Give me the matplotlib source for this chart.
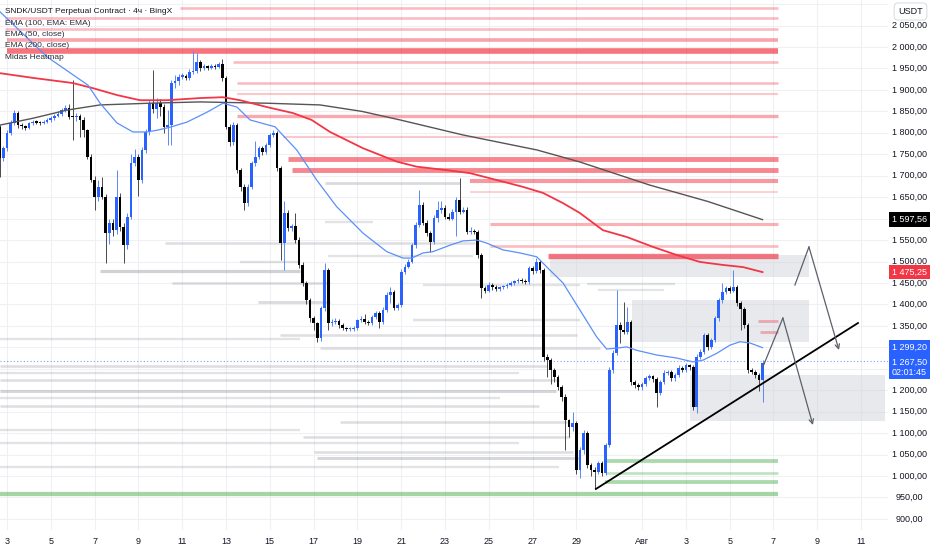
import matplotlib
matplotlib.use("Agg")
import numpy as np
import matplotlib.pyplot as plt
from matplotlib.patches import Rectangle
from matplotlib import transforms

plt.rcParams['font.family'] = ['Liberation Sans Narrow', 'Liberation Sans', 'DejaVu Sans']

# x axis is "days since Jul 1 00:00", 4h candles
FIRST_OPEN = 1814
LAST_CANDLE_DAY = 36.5

closes = [
    1741, 1764, 1800, 1823, 1847, 1818, 1815, 1812, 1822, 1826,
    1824, 1823, 1826, 1830, 1835, 1840, 1845, 1853, 1857, 1838,
    1836, 1840, 1830, 1806, 1744, 1690, 1651, 1674, 1651, 1566,
    1590, 1574, 1651, 1581, 1538, 1604, 1729, 1744, 1690, 1760,
    1802, 1869, 1855, 1870, 1860, 1814, 1818, 1916, 1920, 1931,
    1933, 1928, 1942, 1945, 1966, 1950, 1955, 1952, 1956, 1954,
    1960, 1928, 1814, 1779, 1818, 1713, 1674, 1636, 1674, 1729,
    1744, 1764, 1755, 1771, 1795, 1800, 1718, 1543, 1613, 1578,
    1582, 1550, 1492, 1450, 1410, 1368, 1356, 1321, 1391, 1480,
    1356, 1359, 1362, 1352, 1345, 1343, 1343, 1345, 1363, 1366,
    1360, 1357, 1371, 1379, 1359, 1387, 1422, 1429, 1391, 1398,
    1476, 1488, 1500, 1538, 1585, 1632, 1590, 1566, 1546, 1601,
    1620, 1625, 1604, 1600, 1615, 1643, 1616, 1620, 1569, 1572,
    1569, 1515, 1438, 1432, 1445, 1440, 1437, 1440, 1442, 1446,
    1450, 1454, 1457, 1455, 1452, 1485, 1478, 1499, 1480, 1278,
    1270, 1247, 1231, 1208, 1185, 1130, 1115, 1123, 1014, 1060,
    1100, 1025, 1014, 1010, 1030, 1007, 1072, 1247, 1287, 1352,
    1340, 1335, 1359, 1219, 1212, 1207, 1215, 1228, 1232, 1225,
    1193, 1219, 1240, 1243, 1228, 1235, 1252, 1248, 1258, 1254,
    1161, 1278, 1289, 1328, 1300, 1317, 1368, 1410, 1429, 1438,
    1432, 1441, 1403, 1390, 1352, 1247, 1243, 1235, 1224, 1263,
]
highs = [
    1818, 1770, 1806, 1830, 1853, 1852, 1822, 1819, 1826, 1830,
    1829, 1828, 1830, 1834, 1839, 1845, 1850, 1858, 1864, 1868,
    1923, 1846, 1845, 1836, 1810, 1750, 1700, 1690, 1696, 1658,
    1600, 1598, 1713, 1660, 1590, 1612, 1750, 1762, 1750, 1766,
    1810, 1876, 1946, 1880, 1878, 1866, 1853, 1922, 1935, 1938,
    1940, 1937, 1948, 1990, 1986, 1970, 1960, 1958, 1961, 1960,
    1964, 1972, 1932, 1820, 1825, 1822, 1718, 1680, 1680, 1735,
    1780, 1770, 1770, 1776, 1800, 1806, 1804, 1722, 1640, 1620,
    1588, 1612, 1556, 1498, 1455, 1415, 1372, 1360, 1396, 1496,
    1484, 1366, 1368, 1366, 1356, 1348, 1347, 1350, 1367, 1372,
    1378, 1364, 1376, 1384, 1384, 1395, 1428, 1440, 1434, 1404,
    1482, 1494, 1506, 1544, 1592, 1667, 1638, 1596, 1572, 1608,
    1640, 1642, 1632, 1612, 1622, 1650, 1694, 1626, 1626, 1580,
    1576, 1574, 1520, 1444, 1452, 1450, 1446, 1444, 1446, 1450,
    1454, 1458, 1462, 1461, 1459, 1490, 1490, 1508, 1504, 1484,
    1284, 1276, 1252, 1236, 1212, 1190, 1134, 1150, 1128, 1068,
    1108, 1106, 1030, 1020, 1036, 1034, 1078, 1255, 1294, 1433,
    1358, 1405, 1395, 1364, 1224, 1216, 1220, 1234, 1238, 1236,
    1230, 1224, 1246, 1248, 1248, 1240, 1258, 1256, 1264, 1262,
    1258, 1284, 1296, 1334, 1334, 1322, 1374, 1416, 1450, 1444,
    1444, 1480, 1446, 1408, 1394, 1356, 1252, 1248, 1240, 1270,
]
lows = [
    1697, 1735, 1758, 1795, 1818, 1812, 1808, 1806, 1808, 1818,
    1820, 1818, 1820, 1822, 1826, 1831, 1836, 1840, 1848, 1832,
    1783, 1828, 1790, 1790, 1738, 1685, 1620, 1640, 1645, 1496,
    1540, 1560, 1565, 1570, 1496, 1530, 1600, 1722, 1653, 1684,
    1752, 1795, 1846, 1835, 1840, 1800, 1772, 1772, 1905, 1912,
    1925, 1922, 1922, 1936, 1940, 1944, 1946, 1946, 1948, 1949,
    1950, 1920, 1808, 1770, 1772, 1706, 1665, 1620, 1630, 1668,
    1722, 1738, 1748, 1750, 1766, 1790, 1710, 1503, 1480, 1570,
    1572, 1544, 1486, 1444, 1402, 1360, 1340, 1313, 1315, 1385,
    1340, 1350, 1354, 1346, 1340, 1338, 1338, 1339, 1341, 1358,
    1355, 1352, 1352, 1366, 1344, 1354, 1382, 1404, 1386, 1386,
    1394, 1470, 1484, 1496, 1532, 1580, 1584, 1560, 1522, 1540,
    1592, 1612, 1598, 1596, 1596, 1560, 1610, 1612, 1563, 1565,
    1563, 1508, 1415, 1426, 1428, 1434, 1432, 1432, 1436, 1438,
    1442, 1446, 1450, 1450, 1447, 1448, 1472, 1474, 1474, 1268,
    1230, 1215, 1220, 1200, 1175, 1060, 1090, 1105, 1005, 995,
    1052, 1018, 1000, 970, 1004, 1000, 1002, 1068, 1240, 1282,
    1310, 1330, 1330, 1212, 1205, 1200, 1200, 1210, 1224, 1218,
    1160, 1188, 1214, 1236, 1222, 1222, 1230, 1242, 1242, 1248,
    1154, 1146, 1272, 1284, 1294, 1295, 1312, 1362, 1404, 1424,
    1426, 1428, 1396, 1340, 1346, 1240, 1238, 1228, 1198, 1173,
]

# moving averages: (day, price)
ema_fast_days = [1.68, 3.83, 5.70, 6.25, 7.02, 7.75, 8.39, 8.85, 9.44, 10.22, 11.13, 11.86, 12.50,
                 13.10, 14.24, 15.23, 16.14, 17.05, 18.26, 19.34, 20.08, 20.48, 21.00, 21.45, 22.23,
                 22.82, 23.45, 23.90, 24.65, 25.42, 26.19, 26.79, 27.39, 28.16, 28.93, 29.38, 29.84,
                 30.30, 30.75, 31.67, 32.58, 33.32, 33.78, 34.41, 35.01, 35.47, 35.93, 36.50]
ema_fast_vals = [2082, 1977, 1911, 1869, 1823, 1802, 1802, 1806, 1813, 1825, 1848, 1869, 1860,
                 1830, 1814, 1760, 1690, 1628, 1566, 1523, 1508, 1508, 1520, 1523, 1538,
                 1548, 1550, 1543, 1527, 1520, 1511, 1480, 1450, 1387, 1324, 1296, 1298,
                 1301, 1293, 1282, 1275, 1266, 1270, 1286, 1305, 1313, 1310, 1299.2]
ema_red_days = [1.68, 3.19, 5.01, 5.93, 7.02, 8.07, 9.31, 10.81, 11.86, 12.64, 13.87, 15.06, 15.91,
                16.75, 18.26, 19.79, 20.71, 22.08, 23.14, 24.36, 25.56, 26.47, 27.39, 28.16, 29.21,
                30.31, 31.50, 32.59, 33.64, 34.69, 35.61, 36.50]
ema_red_vals = [1939, 1928, 1916, 1904, 1888, 1876, 1876, 1881, 1883, 1876, 1860, 1846, 1830,
                1802, 1764, 1733, 1721, 1713, 1706, 1690, 1674, 1660, 1636, 1613, 1573,
                1557, 1534, 1515, 1499, 1492, 1487, 1475.25]
ema_slow_days = [1.68, 3.19, 4.74, 6.25, 8.53, 10.81, 13.87, 16.29, 18.2, 19.95, 22.82, 26.20,
                 28.16, 31.36, 34.0, 36.50]
ema_slow_vals = [1818, 1834, 1853, 1865, 1869, 1872, 1869, 1865, 1850, 1830, 1795, 1760,
                 1732, 1678, 1640, 1597.56]

# Midas heatmap rows: price, start day, strength (all end at the same day)
HEAT_END = 37.21
heat_red_price = [2090, 2067, 2041, 2016, 1991, 1966, 1915, 1890, 1839, 1790, 1739, 1713,
                  1688, 1662, 1587, 1537, 1513, 1361, 1336]
heat_red_start = [9.9, 1.9, 1.9, 2.0, 2.0, 12.32, 12.5, 12.5, 12.5, 14.6, 14.83, 15.01,
                  23.14, 23.14, 24.05, 24.05, 26.7, 36.29, 36.38]
heat_red_str = [0.3, 0.3, 0.3, 0.5, 0.9, 0.3, 0.3, 0.2, 0.45, 0.2, 0.75, 0.75,
                0.6, 0.15, 0.4, 0.3, 0.85, 0.35, 0.35]

heat_gray_price = [1683, 1592, 1543, 1513, 1499, 1479, 1450, 1448, 1445, 1434, 1406, 1364, 1329,
                   1319, 1298, 1256, 1240, 1224, 1197, 1182, 1162, 1127, 1107, 1092, 1077,
                   1057, 1041, 1021]
heat_gray_start = [16.52, 16.52, 9.21, 16.66, 12.64, 6.25, 9.53, 28.5, 21.0, 29.0, 13.46, 20.54,
                   14.47, 1.68, 16.29, 1.68, 1.68, 1.68, 1.68, 1.68, 1.68, 17.21, 1.68, 15.5,
                   1.68, 16.0, 16.16, 1.68]
heat_gray_end = [22.68, 18.71, 23.37, 23.28, 15.38, 15.38, 16.75, 32.5, 28.16, 32.0, 16.75, 28.16,
                 28.03, 15.38, 29.08, 26.66, 25.4, 27.2, 27.07, 24.5, 26.3, 27.57, 15.38, 27.7,
                 25.4, 27.85, 28.16, 27.2]
heat_gray_str = [0.5, 0.3, 0.4, 0.3, 0.3, 0.7, 0.4, 0.3, 0.3, 0.25, 0.5, 0.35, 0.4,
                 0.3, 0.4, 0.4, 0.3, 0.4, 0.6, 0.3, 0.4, 0.4, 0.3, 0.4, 0.3,
                 0.4, 0.6, 0.3]

heat_green_price = [957, 1034, 1008, 985]
heat_green_start = [1.68, 29.31, 29.31, 29.31]
heat_green_str = [0.7, 0.6, 0.35, 0.6]

# drawn zones: day0, day1, price low, price high
zone_day0 = [26.79, 30.54, 33.19]
zone_day1 = [38.62, 38.62, 42.1]
zone_lo = [1465, 1312, 1128]
zone_hi = [1516, 1410, 1235]

trend_days = [28.89, 40.86]
trend_vals = [969.7, 1356.6]
arrow1_days = [36.52, 37.43, 38.80]
arrow1_vals = [1254.8, 1368.3, 1118.9]
arrow2_days = [37.98, 38.62, 39.99]
arrow2_vals = [1445.2, 1534.0, 1293.7]

last_price = 1267.50
ema_fast_last = 1299.20
ema_red_last = 1475.25
ema_slow_last = 1597.56

jul_labels = [3, 5, 7, 9, 11, 13, 15, 17, 19, 21, 23, 25, 27, 29]
aug_labels = [3, 5, 7, 9, 11]

BLUE = '#2962ff'
RED = '#f23645'
TXT = '#131722'


def fmt(v):
    return f"{v:,.2f}".replace(",", " ").replace(".", ",")


fig = plt.figure(figsize=(9.32, 5.5), dpi=100)
W, H = 932, 550
ax = fig.add_axes([0, 20 / H, 888 / W, 530 / H])
ax.set_xlim(1.68, 42.23)
ax.set_ylim(874.1, 2109.6)
for s in ax.spines.values():
    s.set_visible(False)

# grid
tick_days = [d - 1 for d in jul_labels] + [31] + [30 + d for d in aug_labels]
tick_text = [str(d) for d in jul_labels] + ['Авг'] + [str(d) for d in aug_labels]
ax.set_xticks(tick_days)
ax.set_xticklabels(tick_text, fontsize=6.5, color=TXT)
ax.set_yticks(np.arange(900, 2101, 50))
ax.tick_params(axis='both', length=0, labelleft=False)
ax.tick_params(axis='x', pad=5)
ax.grid(True, color='#eef0f4', lw=0.8, zorder=0)
ax.set_axisbelow(True)

# zones
for d0, d1, lo, hi in zip(zone_day0, zone_day1, zone_lo, zone_hi):
    ax.add_patch(Rectangle((d0, lo), d1 - d0, hi - lo, fc='#d1d4dc', ec='none', alpha=0.5, zorder=1))

# heatmap rows
for p, d0, s in zip(heat_red_price, heat_red_start, heat_red_str):
    ax.hlines(p, d0, HEAT_END, color=RED, alpha=0.15 + 0.6 * s, lw=0.8 + 3.6 * s, zorder=1.5)
for p, d0, d1, s in zip(heat_gray_price, heat_gray_start, heat_gray_end, heat_gray_str):
    ax.hlines(p, d0, d1, color='#9598a1', alpha=0.15 + 0.4 * s, lw=1.2 + 1.6 * s, zorder=1.5)
for p, d0, s in zip(heat_green_price, heat_green_start, heat_green_str):
    ax.hlines(p, d0, HEAT_END, color='#4caf50', alpha=0.2 + 0.45 * s, lw=0.8 + 3.2 * s, zorder=1.5)

# current price line
ax.axhline(last_price, color=BLUE, lw=0.8, ls=(0, (1, 2)), alpha=0.6, zorder=2)

# candles
n = len(closes)
xs = LAST_CANDLE_DAY - (n - 1 - np.arange(n)) / 6.0
opens = np.array([FIRST_OPEN] + closes[:-1], dtype=float)
cl = np.array(closes, dtype=float)
up = cl >= opens
ax.vlines(xs, lows, highs, colors=np.where(up, '#5c86f7', '#4a4a4a'), lw=0.7, zorder=4)
body_lo = np.minimum(opens, cl)
body_h = np.maximum(np.abs(cl - opens), 2.8)
ax.bar(xs, body_h, bottom=body_lo, width=0.122, color=np.where(up, BLUE, '#000000'),
       lw=0, zorder=4.5)

# moving averages
ax.plot(ema_slow_days, ema_slow_vals, color='#555555', lw=1.0, zorder=5)
ax.plot(ema_red_days, ema_red_vals, color=RED, lw=1.3, zorder=5)
ax.plot(ema_fast_days, ema_fast_vals, color='#5b8ff9', lw=0.9, zorder=5)

# drawings
ax.plot(trend_days, trend_vals, color='#000000', lw=1.3, zorder=6)
for dd, vv in [(arrow1_days, arrow1_vals), (arrow2_days, arrow2_vals)]:
    ax.plot(dd[:2], vv[:2], color='#5d606b', lw=0.9, zorder=6)
    ax.annotate('', xy=(dd[2], vv[2]), xytext=(dd[1], vv[1]),
                arrowprops=dict(arrowstyle='->', color='#5d606b', lw=0.9,
                                mutation_scale=8, shrinkA=0, shrinkB=0), zorder=6)

# right price scale
ytr = ax.get_yaxis_transform()
lab_x = 909.5 / 888
hidden = {1600, 1300, 1250}
for v in np.arange(900, 2051, 50):
    if int(v) in hidden:
        continue
    ax.text(lab_x, v, fmt(v), transform=ytr, ha='center', va='center', fontsize=6.5,
            color=TXT, clip_on=False)

for v, fc in [(ema_slow_last, '#000000'), (ema_red_last, RED), (ema_fast_last, BLUE)]:
    ax.text(lab_x, v, fmt(v), transform=ytr, ha='center', va='center', fontsize=6.5,
            color='white', clip_on=False,
            bbox=dict(boxstyle='square,pad=0.3', fc=fc, ec='none'))
ax.text(lab_x, last_price, fmt(last_price) + "\n02:01:45", transform=transforms.offset_copy(
    ytr, fig=fig, x=0, y=-6, units='dots'), ha='center', va='center', fontsize=6.5,
    color='white', linespacing=1.15, clip_on=False,
    bbox=dict(boxstyle='square,pad=0.3', fc=BLUE, ec='none'))

fig.text(910.5 / W, 1 - 11.5 / H, 'USDT', ha='center', va='center', fontsize=6.5, color=TXT,
         zorder=10, bbox=dict(boxstyle='round,pad=0.45', fc='white', ec='#d1d4dc', lw=0.6))

# legend
legend_lines = ['SNDK/USDT Perpetual Contract · 4ч · BingX', 'EMA (100, EMA: EMA)',
                'EMA (50, close)', 'EMA (200, close)', 'Midas Heatmap']
for k, t in enumerate(legend_lines):
    fig.text(5 / W, 1 - (11.7 + 11.4 * k) / H, t, ha='left', va='center', fontsize=6.0,
             color=TXT if k == 0 else '#2a2e39')

fig.savefig('out.png', dpi=100, facecolor='white')
